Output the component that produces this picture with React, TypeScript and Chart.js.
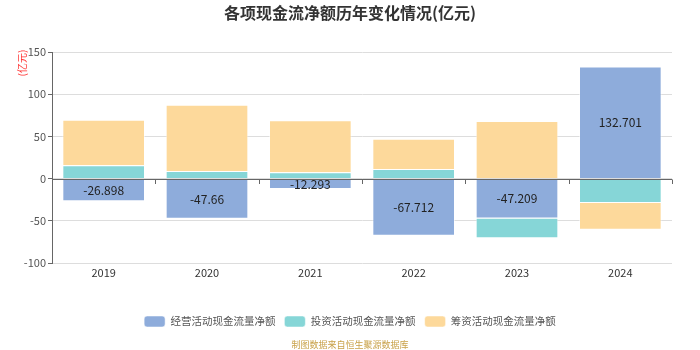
import React, { useEffect, useRef } from "react";
import { Chart, registerables } from "chart.js";

Chart.register(...registerables);

const years = ["2019", "2020", "2021", "2022", "2023", "2024"];
const operating = [-26.898, -47.66, -12.293, -67.712, -47.209, 132.701];
const investing = [15.8, 9.1, 7.5, 11.5, -23.5, -29.0];
const financing = [54.0, 78.5, 61.5, 35.7, 68.2, -31.7];
const yTicks = [-100, -50, 0, 50, 100, 150];
const seriesNames = ["经营活动现金流量净额", "投资活动现金流量净额", "筹资活动现金流量净额"];
const colors = ["#8eacdb", "#86d6d7", "#fdd99b"];

const FONT = "'Microsoft YaHei', 'Noto Sans CJK SC', 'Noto Sans', sans-serif";

const decorPlugin = {
  id: "decor",
  afterDatasetsDraw(chart: any) {
    const { ctx, chartArea, scales } = chart;
    const y0 = scales.y.getPixelForValue(0);
    ctx.save();
    ctx.strokeStyle = "#666";
    ctx.lineWidth = 1;
    ctx.beginPath();
    ctx.moveTo(chartArea.left, Math.round(y0) + 0.5);
    ctx.lineTo(chartArea.right, Math.round(y0) + 0.5);
    ctx.stroke();
    const n = years.length;
    const w = (chartArea.right - chartArea.left) / n;
    for (let i = 0; i <= n; i++) {
      const x = Math.round(chartArea.left + i * w) + 0.5;
      ctx.beginPath();
      ctx.moveTo(x, Math.round(y0) + 0.5);
      ctx.lineTo(x, Math.round(y0) + 5);
      ctx.stroke();
    }
    const meta = chart.getDatasetMeta(0);
    ctx.fillStyle = "#222";
    ctx.font = `12px ${FONT}`;
    ctx.textAlign = "center";
    ctx.textBaseline = "middle";
    meta.data.forEach((bar: any, i: number) => {
      const yc = (bar.y + bar.base) / 2;
      ctx.fillText(String(operating[i]), bar.x, yc);
    });
    ctx.fillStyle = "#333";
    ctx.font = `bold 16px ${FONT}`;
    ctx.fillText("各项现金流净额历年变化情况(亿元)", 350, 13);
    ctx.save();
    ctx.translate(22, 63);
    ctx.rotate(-Math.PI / 2);
    ctx.fillStyle = "#ff3333";
    ctx.font = `10px ${FONT}`;
    ctx.fillText("(亿元)", 0, 0);
    ctx.restore();
    ctx.fillStyle = "#c9a24a";
    ctx.font = `9px ${FONT}`;
    ctx.fillText("制图数据来自恒生聚源数据库", 350, 345);
    ctx.restore();
  },
};

export default function App() {
  const ref = useRef<HTMLCanvasElement | null>(null);
  useEffect(() => {
    document.body.style.margin = "0";
    const c = new Chart(ref.current!, {
      type: "bar",
      data: {
        labels: years,
        datasets: [operating, investing, financing].map((d, i) => ({
          label: seriesNames[i],
          data: d,
          backgroundColor: colors[i],
          borderColor: "rgba(255,255,255,0.5)",
          borderWidth: 1,
          barPercentage: 0.8,
          categoryPercentage: 1,
        })),
      },
      options: {
        animation: false,
        responsive: false,
        layout: { padding: { top: 52, right: 14, left: 14, bottom: 13 } },
        plugins: {
          legend: {
            position: "bottom",
            labels: {
              boxWidth: 21,
              boxHeight: 11,
              useBorderRadius: true,
              borderRadius: 3,
              padding: 9,
              color: "#555",
              font: { size: 10.5, family: FONT },
            },
          },
          tooltip: { enabled: false },
        },
        scales: {
          x: {
            stacked: true,
            grid: { display: false, drawTicks: false },
            border: { display: false },
            afterFit(s: any) {
              s.height = 44;
            },
            ticks: { color: "#333", font: { size: 11, family: FONT }, padding: 3 },
          },
          y: {
            stacked: true,
            min: -100,
            max: 150,
            afterFit(s: any) {
              s.width = 38;
            },
            afterBuildTicks(s: any) {
              s.ticks = yTicks.map((v) => ({ value: v }));
            },
            grid: { color: "#dddddd", tickLength: 4, drawTicks: true, tickColor: "#666" },
            border: { display: true, color: "#666" },
            ticks: { color: "#555", font: { size: 11, family: FONT }, padding: 2 },
          },
          yPad: {
            position: "right",
            display: true,
            min: 0,
            max: 1,
            grid: { display: false, drawTicks: false },
            border: { display: false },
            ticks: { display: false },
            afterFit(s: any) {
              s.width = 14;
            },
          },
        },
      },
      plugins: [decorPlugin],
    } as any);
    return () => c.destroy();
  }, []);
  return <canvas ref={ref} width={700} height={350} style={{ display: "block" }} />;
}
